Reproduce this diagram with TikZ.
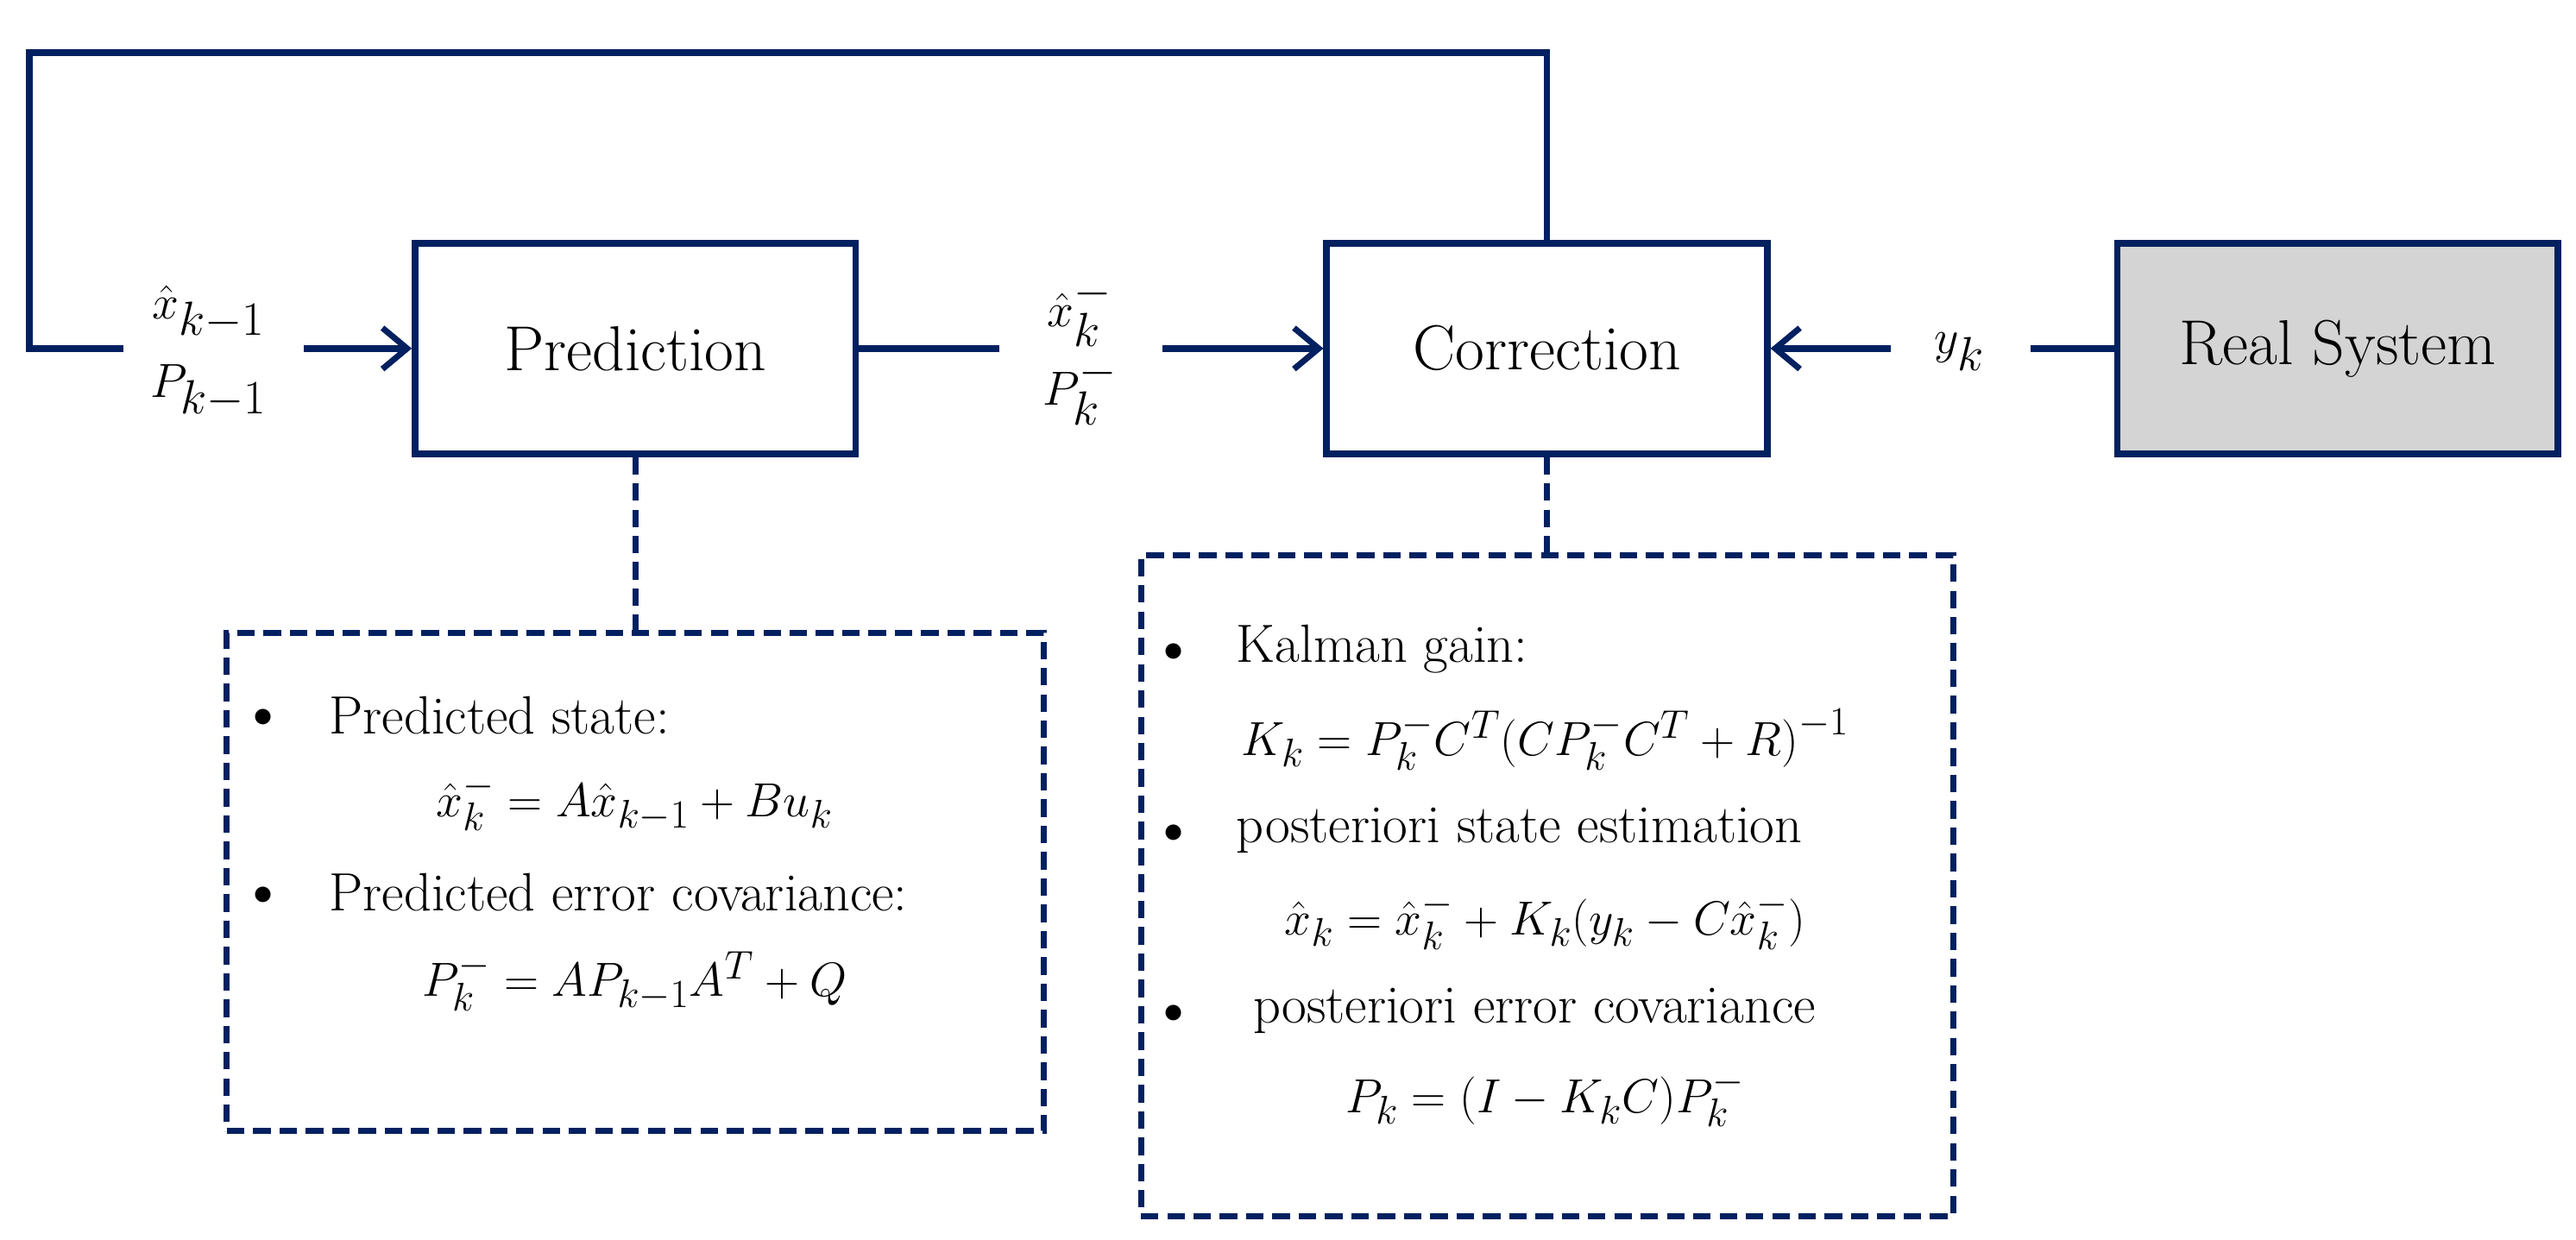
\documentclass[tikz,border=0pt]{standalone}
\usetikzlibrary{arrows.meta}
\definecolor{navy}{RGB}{0,32,96}
\definecolor{sysgray}{RGB}{212,212,212}
\begin{document}
\begin{tikzpicture}[x=0.3mm,y=-0.3mm,
  blk/.style={draw=navy,line width=1.2mm,minimum width=80.4mm,minimum height=38.4mm,inner sep=0,font=\fontsize{33}{38}\selectfont},
  ln/.style={draw=navy,line width=1.2mm},
  arr/.style={ln,-{Straight Barb[length=4.5mm,width=7.5mm,line width=1.1mm]}},
  dsh/.style={draw=navy,line width=1.1mm,dash pattern=on 3.2mm off 1.6mm},
  lbl/.style={font=\fontsize{33}{38}\selectfont,inner sep=0},
  txt/.style={font=\fontsize{28}{33}\selectfont,inner sep=0,anchor=west},
  eq/.style={font=\fontsize{28}{33}\selectfont,inner sep=0},
  bul/.style={font=\fontsize{20}{24}\selectfont,inner sep=0}]
\useasboundingbox (0,0) rectangle (1567,754);
\node[blk] (pred) at (386.5,212) {Prediction};
\node[blk] (corr) at (941,212) {Correction};
\node[blk,fill=sysgray] (sys) at (1422,212) {Real System};
\node[lbl,align=center] (lx) at (127,214) {$\hat{x}_{k-1}$\\[1mm]$P_{k-1}$};
\node[lbl,align=center] (mx) at (657,214) {$\hat{x}_k^-$\\[1mm]$P_k^-$};
\node[lbl] (yk) at (1192,214) {$y_k$};
\coordinate (l0) at (18,212);
\coordinate (l1) at (75,212);
\coordinate (l2) at (185,212);
\coordinate (m1) at (608,212);
\coordinate (m2) at (707,212);
\coordinate (r1) at (1150,212);
\coordinate (r2) at (1235,212);
\draw[ln] (l1) -- (l0) |- (corr.north |- 0,32) -- (corr.north);
\draw[arr] (l2) -- (pred.west);
\draw[ln] (pred.east) -- (m1);
\draw[arr] (m2) -- (corr.west);
\draw[arr] (r1) -- (corr.east);
\draw[ln] (r2) -- (sys.west);
% boxes
\node[dsh,minimum width=149.1mm,minimum height=90.9mm,inner sep=0] (bp) at (386.5,536.5) {};
\node[dsh,minimum width=148.2mm,minimum height=120.6mm,inner sep=0] (bc) at (941,539) {};
\draw[dsh] (pred.south) -- (bp.north);
\draw[dsh] (corr.south) -- (bc.north);
\node[bul] at (160,437) {$\bullet$};
\node[txt] at (200,435) {Predicted state:};
\node[eq] at (386,488) {$\hat{x}_k^- = A\hat{x}_{k-1} + Bu_k$};
\node[bul] at (160,545) {$\bullet$};
\node[txt] at (200,543) {Predicted error covariance:};
\node[eq] at (386,597) {$P_k^- = AP_{k-1}A^T + Q$};
\node[bul] at (714,397) {$\bullet$};
\node[txt] at (752,395) {Kalman gain:};
\node[eq] at (940,450) {$K_k = P_k^-C^T\bigl(CP_k^-C^T + R\bigr)^{-1}$};
\node[bul] at (714,507) {$\bullet$};
\node[txt] at (752,505) {posteriori state estimation};
\node[eq] at (940,560) {$\hat{x}_k = \hat{x}_k^- + K_k(y_k - C\hat{x}_k^-)$};
\node[bul] at (714,617) {$\bullet$};
\node[txt] at (762,615) {posteriori error covariance};
\node[eq] at (940,668) {$P_k = (I - K_kC)P_k^-$};
\end{tikzpicture}
\end{document}
